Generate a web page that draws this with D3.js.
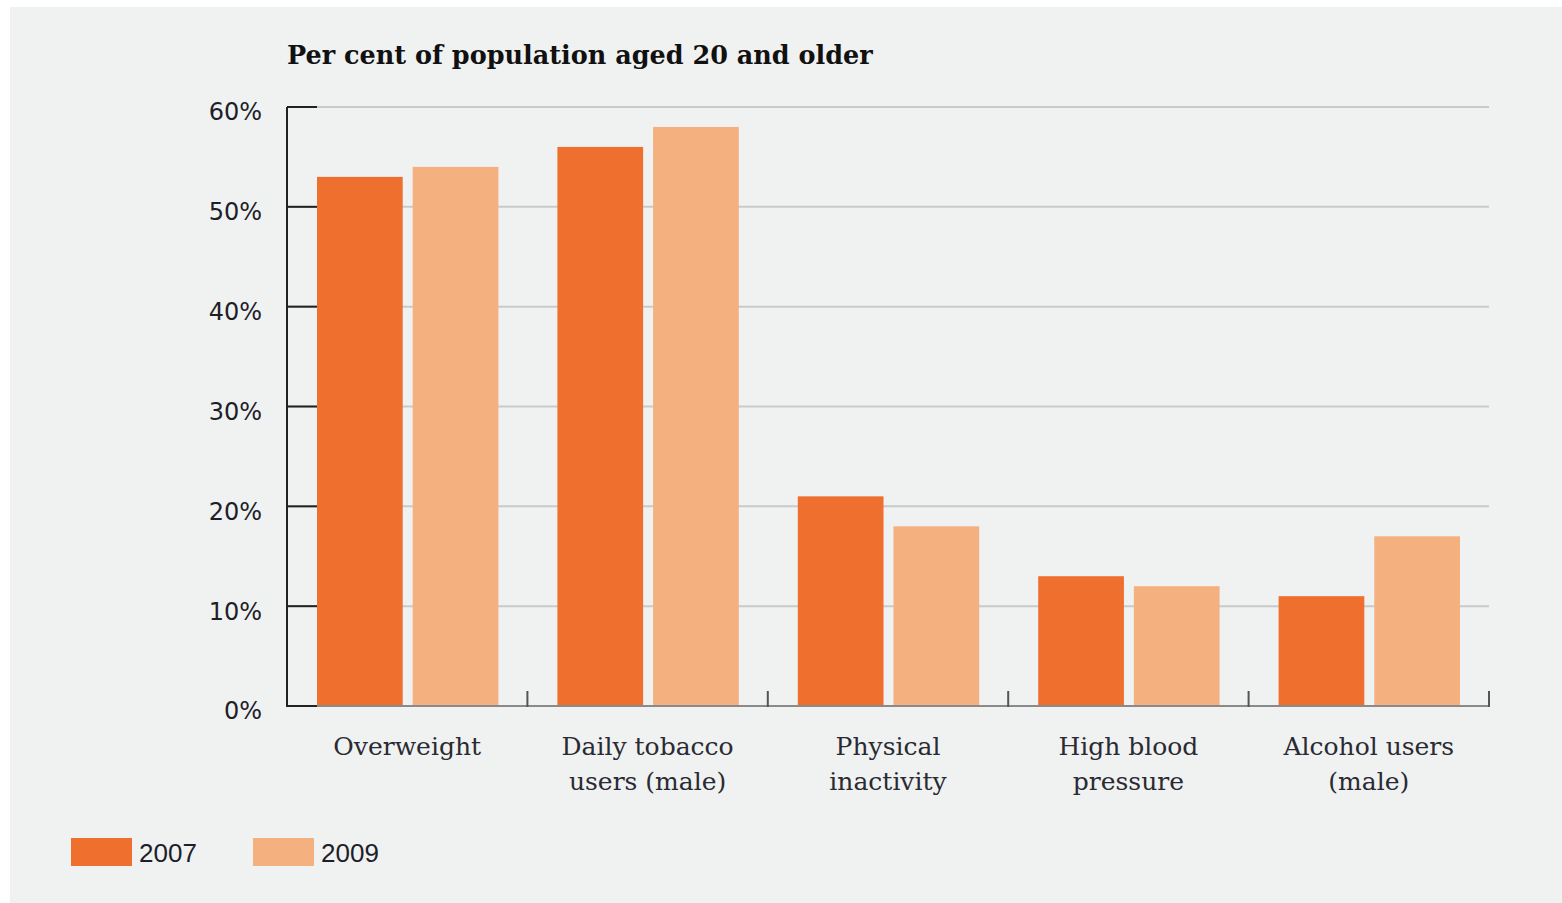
<!DOCTYPE html>
<html><head><meta charset="utf-8">
<script src="https://cdn.jsdelivr.net/npm/d3@7"></script>
<style>html,body{margin:0;padding:0;background:#fff;}svg{display:block;}</style>
</head><body>
<script>
const categories = [["Overweight"], ["Daily tobacco", "users (male)"], ["Physical", "inactivity"], ["High blood", "pressure"], ["Alcohol users", "(male)"]];
const seriesNames = ["2007", "2009"];
const values2007 = [53, 56, 21, 13, 11];
const values2009 = [54, 58, 18, 12, 17];
const yTicks = [0, 10, 20, 30, 40, 50, 60];
const title = "Per cent of population aged 20 and older";

const W = 1562, H = 903;
const colors = {"2007": "#ef6f2e", "2009": "#f5b080"};
const svg = d3.select("body").append("svg").attr("width", W).attr("height", H);
svg.append("rect").attr("x", 10).attr("y", 7).attr("width", W - 10).attr("height", H - 7).attr("fill", "#f0f1f1");

const x0 = 287, x1 = 1489, yTop = 107, yBot = 706;
const x = d3.scaleBand().domain(d3.range(categories.length)).range([x0, x1]).paddingInner(0).paddingOuter(0);
const xs = d3.scaleBand().domain(seriesNames).range([30, x.bandwidth() - 29]).paddingInner(10 / 96).paddingOuter(0);
const y = d3.scaleLinear().domain([0, 60]).range([yBot, yTop]);

// grid lines
svg.append("g").selectAll("line").data(yTicks.filter(d => d > 0)).join("line")
  .attr("x1", x0).attr("x2", x1).attr("y1", d => y(d)).attr("y2", d => y(d))
  .attr("stroke", "#c9cbcb").attr("stroke-width", 2);

// bars
const data = categories.map((c, i) => ({i, vals: [{s: "2007", v: values2007[i]}, {s: "2009", v: values2009[i]}]}));
const g = svg.append("g").selectAll("g").data(data).join("g").attr("transform", d => `translate(${x(d.i)},0)`);
g.selectAll("rect").data(d => d.vals).join("rect")
  .attr("x", d => xs(d.s)).attr("width", xs.bandwidth())
  .attr("y", d => y(d.v)).attr("height", d => y(0) - y(d.v))
  .attr("fill", d => colors[d.s]);

// x baseline
svg.append("line").attr("x1", x0).attr("x2", x1).attr("y1", yBot).attr("y2", yBot).attr("stroke", "#8a8a8a").attr("stroke-width", 2);
// y-axis ticks (dark, short)
svg.append("g").selectAll("line").data(yTicks).join("line")
  .attr("x1", x0).attr("x2", x0 + 30).attr("y1", d => y(d)).attr("y2", d => y(d))
  .attr("stroke", "#222").attr("stroke-width", 2);
// y axis line
svg.append("line").attr("x1", x0).attr("x2", x0).attr("y1", yTop).attr("y2", yBot + 1).attr("stroke", "#222").attr("stroke-width", 2);
// category separators
svg.append("g").selectAll("line").data(d3.range(1, categories.length + 1)).join("line")
  .attr("x1", d => x0 + d * x.bandwidth()).attr("x2", d => x0 + d * x.bandwidth())
  .attr("y1", yBot - 15).attr("y2", yBot + 1)
  .attr("stroke", "#555").attr("stroke-width", 2);

// y labels
svg.append("g").selectAll("text").data(yTicks).join("text")
  .attr("x", 262).attr("y", d => y(d) + 5).attr("dy", "0.35em")
  .attr("text-anchor", "end").attr("font-family", "DejaVu Sans").attr("font-size", 24)
  .attr("fill", "#1e1e28").text(d => d + "%");

// x labels
const xl = svg.append("g").selectAll("text").data(categories).join("text")
  .attr("text-anchor", "middle").attr("font-family", "DejaVu Serif").attr("font-size", 25)
  .attr("fill", "#2a2a33").attr("x", (d, i) => x(i) + x.bandwidth() / 2).attr("y", 755);
xl.selectAll("tspan").data(d => d).join("tspan")
  .attr("x", function() { return this.parentNode.getAttribute("x"); })
  .attr("dy", (d, i) => i === 0 ? 0 : 35).text(d => d);

// title
svg.append("text").attr("x", 287).attr("y", 64).attr("font-family", "DejaVu Serif").attr("font-weight", "bold")
  .attr("font-size", 25.5).attr("fill", "#111").text(title);

// legend
const lg = svg.append("g").selectAll("g").data(seriesNames).join("g")
  .attr("transform", (d, i) => `translate(${71 + i * 182},838)`);
lg.append("rect").attr("width", 61).attr("height", 28).attr("fill", d => colors[d]);
lg.append("text").attr("x", 68).attr("y", 24).attr("font-family", "Liberation Sans").attr("font-size", 26)
  .attr("fill", "#1e1e28").text(d => d);
</script>
</body></html>
